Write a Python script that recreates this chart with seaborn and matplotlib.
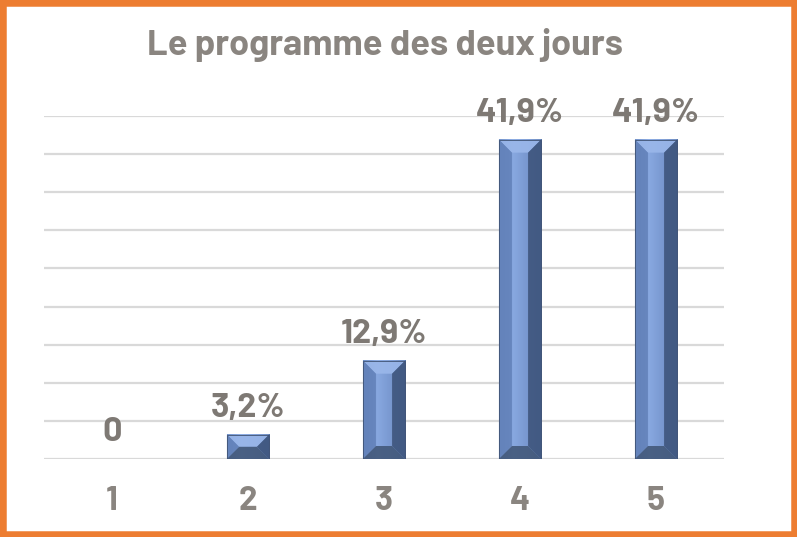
import numpy as np
import matplotlib
matplotlib.use("Agg")
import matplotlib.pyplot as plt
import seaborn as sns
from matplotlib.patches import Polygon, Rectangle
from matplotlib.colors import LinearSegmentedColormap

# données
categories = ['1', '2', '3', '4', '5']
values = [0, 3.2, 12.9, 41.9, 41.9]
labels = ['0', '3,2%', '12,9%', '41,9%', '41,9%']
title = 'Le programme des deux jours'

grey = '#7E7974'
orange = '#ED7D31'
fonts = ['Barlow', 'Barlow Semi Condensed', 'Liberation Sans', 'DejaVu Sans']

sns.set_theme(style='white')
plt.rcParams['font.family'] = fonts

fig = plt.figure(figsize=(7.97, 5.37), dpi=100)
ax = fig.add_axes([44 / 797, 78 / 537, 680 / 797, 343 / 537])

sns.barplot(x=categories, y=values, color='#7394CC', width=0.31, ax=ax,
            edgecolor='none', zorder=2)
ax.set_xlim(-0.5, 4.5)
ax.set_ylim(0, 45)
ax.set_yticks(np.arange(0, 46, 5))
ax.yaxis.grid(True, color='#D9D9D9', lw=1.6, zorder=0)
ax.set_yticklabels([])
ax.tick_params(left=False, bottom=False)
for s in ax.spines.values():
    s.set_visible(False)
ax.set_xlabel('')
ax.set_ylabel('')
ax.tick_params(axis='x', pad=31)
for t in ax.get_xticklabels():
    t.set_fontsize(24)
    t.set_fontweight('bold')
    t.set_color('#8A8580')
    t.set_va('baseline')

# relief des barres (biseau)
px_x = 5.0 / 680  # données par pixel
px_y = 45.0 / 343
cmap = LinearSegmentedColormap.from_list('b', ['#6282BA', '#88A8E0', '#7897CF', '#5A78AC'])
grad = np.linspace(0, 1, 64).reshape(1, -1)
for p in ax.patches:
    x0, y0 = p.get_x(), p.get_y()
    w, h = p.get_width(), p.get_height()
    if h <= 0:
        continue
    x1, y1 = x0 + w, y0 + h
    bv = min(13, h / px_y / 2)
    bx, by = bv * px_x, bv * px_y
    ix0, ix1 = x0 + bx, x1 - bx
    iy0, iy1 = y0 + by, y1 - by
    ax.imshow(grad, cmap=cmap, extent=[x0, x1, y0, y1], aspect='auto', zorder=2.5)
    faces = [
        ([(x0, y1), (x1, y1), (ix1, iy1), (ix0, iy1)], '#9AB7EA'),
        ([(x0, y0), (ix0, iy0), (ix0, iy1), (x0, y1)], '#6483BB'),
        ([(x1, y0), (x1, y1), (ix1, iy1), (ix1, iy0)], '#40577F'),
        ([(x0, y0), (x1, y0), (ix1, iy0), (ix0, iy0)], '#445A7C'),
    ]
    for pts, c in faces:
        ax.add_patch(Polygon(pts, closed=True, facecolor=c, edgecolor='none',
                             alpha=0.92, zorder=3))
    ax.add_patch(Rectangle((x0, y0), w, h, fill=False, edgecolor='#3E5172',
                           lw=0.6, zorder=3.5))
ax.set_xlim(-0.5, 4.5)
ax.set_ylim(0, 45)

# étiquettes de données
for i, (v, lab) in enumerate(zip(values, labels)):
    ax.annotate(lab, (i, v), xytext=(0, 13), textcoords='offset points',
                ha='center', va='baseline', fontsize=24.5, fontweight='bold',
                color=grey, zorder=4)

fig.text(385 / 797, 1 - 55 / 537, title, ha='center', va='baseline',
         fontsize=26, fontweight='bold', color='#8A8580')

fig.patches.append(Rectangle((0, 0), 1, 1, transform=fig.transFigure,
                             fill=False, edgecolor=orange, lw=9))

fig.savefig('out.png', dpi=100)
